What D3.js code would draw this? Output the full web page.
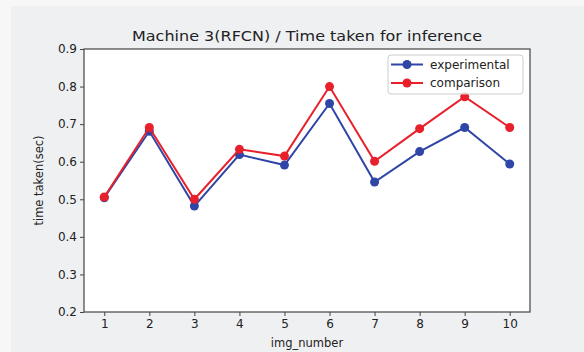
<!DOCTYPE html>
<html>
<head>
<meta charset="utf-8">
<script src="https://cdn.jsdelivr.net/npm/d3@7"></script>
<style>
  body { margin: 0; background: #f7f7f7; }
  text { font-family: "DejaVu Sans", sans-serif; fill: #222; }
</style>
</head>
<body>
<script>
var imgNumbers = [1, 2, 3, 4, 5, 6, 7, 8, 9, 10];
var experimental = [0.504, 0.681, 0.482, 0.619, 0.591, 0.755, 0.546, 0.627, 0.691, 0.594];
var comparison = [0.506, 0.691, 0.500, 0.633, 0.615, 0.800, 0.601, 0.688, 0.773, 0.691];
var yTicks = [0.2, 0.3, 0.4, 0.5, 0.6, 0.7, 0.8, 0.9];
var seriesNames = ["experimental", "comparison"];
var seriesColors = ["#2f46a6", "#e8202b"];

var width = 584, height = 352;
var margin = {left: 84, top: 49, right: 54, bottom: 40};

var svg = d3.select("body").append("svg")
    .attr("width", width)
    .attr("height", height);

svg.append("rect")
    .attr("x", 11).attr("y", 6)
    .attr("width", width - 11).attr("height", height - 6)
    .attr("fill", "#eff0f2");

var x = d3.scaleLinear()
    .domain([0.55, 10.45])
    .range([margin.left, width - margin.right]);
var y = d3.scaleLinear()
    .domain([0.2, 0.9])
    .range([height - margin.bottom, margin.top]);

svg.append("rect")
    .attr("x", x(0.55)).attr("y", y(0.9))
    .attr("width", x(10.45) - x(0.55))
    .attr("height", y(0.2) - y(0.9))
    .attr("fill", "#fff");

var xAxis = svg.append("g")
    .attr("transform", "translate(0," + y(0.2) + ")")
    .call(d3.axisBottom(x).tickValues(imgNumbers).tickSize(4).tickPadding(3).tickFormat(d3.format("d")));
var yAxis = svg.append("g")
    .attr("transform", "translate(" + x(0.55) + ",0)")
    .call(d3.axisLeft(y).tickValues(yTicks).tickSize(4).tickPadding(3).tickFormat(d3.format(".1f")));

[xAxis, yAxis].forEach(function(a) {
    a.select(".domain").remove();
    a.selectAll("line").attr("stroke", "#444");
    a.selectAll("text").style("font-size", "12px").attr("fill", "#222");
});

// frame
svg.append("rect")
    .attr("x", x(0.55)).attr("y", y(0.9))
    .attr("width", x(10.45) - x(0.55))
    .attr("height", y(0.2) - y(0.9))
    .attr("fill", "none")
    .attr("stroke", "#444")
    .attr("stroke-width", 1.2);

var line = d3.line()
    .x(function(d, i) { return x(imgNumbers[i]); })
    .y(function(d) { return y(d); });

[experimental, comparison].forEach(function(values, k) {
    svg.append("path")
        .datum(values)
        .attr("d", line)
        .attr("fill", "none")
        .attr("stroke", seriesColors[k])
        .attr("stroke-width", 2);
    svg.selectAll(".pt" + k)
        .data(values)
        .enter()
        .append("circle")
        .attr("cx", function(d, i) { return x(imgNumbers[i]); })
        .attr("cy", function(d) { return y(d); })
        .attr("r", 4.5)
        .attr("fill", seriesColors[k]);
});

// legend
var legend = svg.append("g");
legend.append("rect")
    .attr("x", 388).attr("y", 55)
    .attr("width", 135).attr("height", 39)
    .attr("rx", 3)
    .attr("fill", "#fff")
    .attr("fill-opacity", 0.8)
    .attr("stroke", "#ccc");
seriesNames.forEach(function(name, k) {
    var ly = 64.5 + k * 18.5;
    legend.append("line")
        .attr("x1", 391).attr("x2", 423)
        .attr("y1", ly).attr("y2", ly)
        .attr("stroke", seriesColors[k])
        .attr("stroke-width", 2);
    legend.append("circle")
        .attr("cx", 407).attr("cy", ly).attr("r", 4.5)
        .attr("fill", seriesColors[k]);
    legend.append("text")
        .attr("x", 430).attr("y", ly + 4)
        .style("font-size", "12px")
        .text(name);
});

svg.append("text")
    .attr("x", (x(0.55) + x(10.45)) / 2)
    .attr("y", 41)
    .attr("text-anchor", "middle")
    .attr("textLength", 350)
    .attr("lengthAdjust", "spacingAndGlyphs")
    .style("font-size", "14.5px")
    .text("Machine 3(RFCN) / Time taken for inference");

svg.append("text")
    .attr("x", (x(0.55) + x(10.45)) / 2)
    .attr("y", 347)
    .attr("text-anchor", "middle")
    .style("font-size", "11.5px")
    .text("img_number");

svg.append("text")
    .attr("transform", "translate(43," + ((y(0.2) + y(0.9)) / 2) + ") rotate(-90)")
    .attr("text-anchor", "middle")
    .style("font-size", "11.5px")
    .text("time taken(sec)");
</script>
</body>
</html>
